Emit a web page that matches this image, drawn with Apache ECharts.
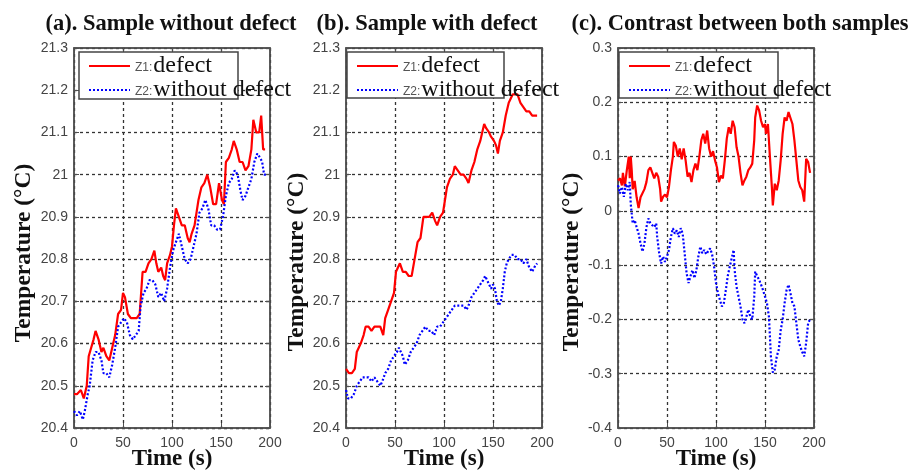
<!DOCTYPE html>
<html>
<head>
<meta charset="utf-8">
<script src="https://cdn.jsdelivr.net/npm/echarts@6/dist/echarts.min.js"></script>
<style>
  html, body { margin: 0; padding: 0; background: #fff; }
  #chart { width: 912px; height: 473px; }
</style>
</head>
<body>
<div id="chart"></div>
<script>
// (a) sample without defect
const tA1 = [0,3,7,10,13,15,17,20,22,25,28,30,33,36,38,42,45,48,50,52,55,58,61,64,67,70,73,76,79,82,84,86,89,91,93,95,98,100,102,104,107,110,113,116,118,120,123,125,127,130,133,136,139,142,145,148,151,153,155,158,161,163,166,169,172,175,178,181,183,186,189,191,193,195];
const zA1 = [20.48,20.48,20.49,20.47,20.50,20.57,20.57,20.61,20.63,20.61,20.58,20.59,20.57,20.56,20.58,20.62,20.67,20.68,20.72,20.71,20.67,20.66,20.66,20.66,20.67,20.77,20.77,20.79,20.80,20.82,20.79,20.77,20.78,20.76,20.75,20.79,20.81,20.83,20.88,20.92,20.90,20.88,20.88,20.85,20.84,20.86,20.88,20.88,20.94,20.97,20.98,21.00,20.97,20.93,20.93,20.98,20.94,20.93,21.03,21.04,21.06,21.08,21.06,21.03,21.03,21.01,21.02,21.06,21.13,21.10,21.10,21.14,21.06,21.06];
const tA2 = [0,3,6,9,11,14,16,19,22,25,28,30,33,36,39,42,45,48,51,54,57,60,63,66,68,71,74,77,80,83,86,89,92,95,98,101,104,107,110,113,116,119,122,125,128,131,134,137,140,143,146,149,152,155,158,161,164,167,170,172,175,178,181,184,187,190,192,194,196];
const zA2 = [20.44,20.43,20.44,20.42,20.44,20.48,20.50,20.56,20.58,20.58,20.56,20.53,20.53,20.52,20.55,20.59,20.64,20.65,20.66,20.65,20.62,20.61,20.62,20.63,20.69,20.72,20.73,20.75,20.75,20.74,20.71,20.72,20.70,20.73,20.78,20.82,20.84,20.86,20.83,20.80,20.79,20.80,20.83,20.86,20.91,20.92,20.94,20.92,20.88,20.88,20.87,20.87,20.90,20.95,20.98,20.99,21.01,21.00,20.96,20.94,20.95,20.97,20.99,21.03,21.05,21.04,21.03,21.00,21.00];

// (b) sample with defect
const tB1 = [0,3,6,9,11,13,15,18,20,23,26,29,32,35,38,40,43,46,49,51,53,55,58,61,64,67,70,73,76,79,82,85,88,91,93,96,99,101,103,106,109,111,114,117,120,123,125,128,131,134,137,139,141,143,146,148,151,153,155,157,160,163,166,168,170,172,175,178,181,184,187,190,193,195];
const zB1 = [20.54,20.53,20.53,20.54,20.58,20.59,20.60,20.62,20.64,20.64,20.63,20.64,20.64,20.64,20.62,20.66,20.68,20.70,20.72,20.77,20.78,20.79,20.77,20.77,20.76,20.76,20.80,20.84,20.85,20.90,20.90,20.90,20.91,20.89,20.88,20.90,20.91,20.94,20.97,20.99,21.00,21.02,21.01,21.00,21.00,20.99,20.98,21.01,21.03,21.06,21.08,21.10,21.12,21.11,21.10,21.09,21.08,21.07,21.05,21.08,21.10,21.14,21.17,21.18,21.19,21.19,21.19,21.17,21.16,21.15,21.15,21.14,21.14,21.14];
const tB2 = [0,2,5,8,11,14,17,20,23,26,29,32,35,37,40,43,46,49,52,54,56,58,60,63,66,69,72,75,78,81,84,87,90,93,96,99,102,105,108,111,114,117,120,123,125,128,131,134,137,140,142,144,146,148,150,152,154,156,158,160,162,164,166,169,172,175,178,181,184,187,190,192,195];
const zB2 = [20.49,20.47,20.47,20.48,20.50,20.51,20.52,20.52,20.52,20.51,20.52,20.51,20.50,20.51,20.53,20.54,20.56,20.57,20.58,20.59,20.58,20.57,20.55,20.56,20.58,20.59,20.60,20.62,20.63,20.64,20.63,20.63,20.62,20.64,20.64,20.65,20.66,20.67,20.68,20.69,20.69,20.69,20.69,20.68,20.69,20.71,20.72,20.73,20.74,20.75,20.76,20.75,20.74,20.73,20.74,20.73,20.70,20.69,20.70,20.73,20.77,20.79,20.80,20.81,20.81,20.80,20.80,20.79,20.80,20.78,20.77,20.78,20.79];

// (c) contrast between both samples
const tC1 = [0,2,4,5,7,9,11,12,13,14,15,17,19,21,23,25,27,29,31,33,35,37,39,41,43,44,46,48,50,52,54,56,57,59,61,63,65,67,69,71,73,75,77,79,81,83,85,87,89,91,93,95,97,99,101,103,105,107,109,111,113,115,117,119,121,123,125,127,129,131,133,135,137,139,140,142,144,146,148,150,151,153,155,157,158,160,162,164,166,168,170,172,174,176,178,180,182,184,186,188,190,191,192,194,196];
const zC1 = [0.056,0.06,0.047,0.07,0.045,0.075,0.10,0.06,0.10,0.075,0.04,0.055,0.025,0.005,0.025,0.022,0.04,0.053,0.075,0.08,0.07,0.06,0.07,0.063,0.04,0.017,0.026,0.03,0.025,0.044,0.075,0.10,0.127,0.12,0.10,0.115,0.095,0.115,0.093,0.063,0.07,0.053,0.075,0.087,0.075,0.10,0.13,0.142,0.124,0.148,0.115,0.10,0.11,0.093,0.08,0.053,0.065,0.06,0.093,0.133,0.154,0.142,0.166,0.154,0.117,0.10,0.07,0.047,0.056,0.063,0.075,0.08,0.087,0.13,0.172,0.194,0.185,0.166,0.154,0.16,0.142,0.16,0.10,0.044,0.01,0.05,0.038,0.056,0.093,0.142,0.172,0.166,0.182,0.18,0.16,0.13,0.093,0.056,0.044,0.038,0.017,0.056,0.096,0.09,0.07];
const tC2 = [0,2,4,6,8,10,12,13,15,17,19,21,23,25,27,29,31,33,35,37,39,40,42,44,46,48,50,52,54,56,58,60,62,64,66,68,70,72,74,76,78,80,82,84,86,88,90,92,94,96,98,100,102,104,106,108,110,112,114,116,118,119,121,123,125,127,129,131,133,135,137,139,140,142,144,146,148,150,152,154,155,156,158,160,162,164,166,168,170,172,174,176,178,180,182,184,186,188,190,192,194,196];
const zC2 = [0.047,0.032,0.044,0.026,0.05,0.038,0.053,0.013,-0.023,-0.017,-0.03,-0.042,-0.06,-0.075,-0.06,-0.03,-0.014,-0.023,-0.02,-0.03,-0.023,-0.048,-0.078,-0.097,-0.084,-0.094,-0.084,-0.072,-0.048,-0.032,-0.042,-0.036,-0.048,-0.032,-0.042,-0.078,-0.115,-0.133,-0.12,-0.109,-0.124,-0.109,-0.084,-0.066,-0.078,-0.072,-0.08,-0.078,-0.069,-0.08,-0.102,-0.133,-0.152,-0.164,-0.176,-0.17,-0.146,-0.12,-0.103,-0.10,-0.072,-0.109,-0.14,-0.158,-0.176,-0.20,-0.207,-0.195,-0.182,-0.195,-0.20,-0.158,-0.112,-0.12,-0.127,-0.136,-0.146,-0.146,-0.17,-0.195,-0.23,-0.268,-0.298,-0.292,-0.268,-0.256,-0.22,-0.20,-0.17,-0.146,-0.136,-0.152,-0.17,-0.176,-0.207,-0.237,-0.25,-0.26,-0.268,-0.243,-0.207,-0.20];

const titles = ['(a). Sample without defect', '(b). Sample with defect', '(c). Contrast between both samples'];
const yRanges = [[20.4, 21.3], [20.4, 21.3], [-0.4, 0.3]];
const xTicks = [0, 200, 50];

const gridLeft = [74, 346, 618];
const titleX = [166, 422, 735];
const yNameGap = [38, 31, 33];
const yNameShift = [30, 48, 48];
const boxes = [[79, 52, 159, 47], [347, 52, 157, 46], [619, 52, 159, 46]];
const seriesData = [[tA1, zA1, tA2, zA2], [tB1, zB1, tB2, zB2], [tC1, zC1, tC2, zC2]];

const zip = (t, v) => t.map((x, i) => [x, v[i]]);
const serif = 'Liberation Serif';
const sans = 'Liberation Sans';
const axisGrey = '#505050';

const option = {
  animation: false,
  backgroundColor: '#fff',
  title: titles.map((t, i) => ({
    text: t, left: titleX[i], top: 8, textAlign: 'center',
    textStyle: { fontFamily: serif, fontWeight: 'bold', fontSize: 22.5, color: '#111' }
  })),
  grid: gridLeft.map(l => ({
    left: l, top: 48, width: 196, height: 380, outerBoundsMode: 'none',
    show: true, borderColor: axisGrey, borderWidth: 1.5, backgroundColor: '#fff'
  })),
  xAxis: [],
  yAxis: [],
  legend: gridLeft.map((l, i) => ({
    orient: 'vertical', left: boxes[i][0] + 9, top: 54, padding: 0,
    itemWidth: 41, itemHeight: 21, itemGap: 0, z: 5,
    itemStyle: { opacity: 0 },
    data: ['Z1:defect', 'Z2:without defect'],
    formatter: n => { const p = n.split(':'); return '{z|' + p[0] + ':}{t|' + p[1] + '}'; },
    textStyle: {
      rich: {
        z: { fontFamily: sans, fontSize: 12, color: '#555', padding: [4, 1, 0, 0] },
        t: { fontFamily: serif, fontSize: 24, color: '#111', lineHeight: 21 }
      }
    }
  })),
  graphic: boxes.map(b => ({
    type: 'rect', z: 4,
    shape: { x: b[0], y: b[1], width: b[2], height: b[3] },
    style: { fill: '#fff', stroke: '#444', lineWidth: 1.5 }
  })),
  series: []
};

for (let i = 0; i < 3; i++) {
  const base = {
    gridIndex: i, type: 'value', min: xTicks[0], max: xTicks[1], interval: xTicks[2]
  };
  option.xAxis.push(Object.assign({}, base, {
    position: 'bottom',
    name: 'Time (s)', nameLocation: 'middle', nameGap: 20, nameMoveOverlap: false,
    nameTextStyle: { fontFamily: serif, fontWeight: 'bold', fontSize: 23, color: '#111' },
    axisLine: { onZero: false, lineStyle: { color: axisGrey, width: 1.5 } },
    axisTick: { inside: true, length: 5, lineStyle: { color: axisGrey } },
    axisLabel: { fontFamily: sans, fontSize: 14, color: '#444', margin: 8 },
    splitLine: { show: true, lineStyle: { color: '#333', type: [3, 3], width: 1.3 } }
  }));
  option.xAxis.push(Object.assign({}, base, {
    position: 'top',
    axisLine: { onZero: false, lineStyle: { color: axisGrey, width: 1.5 } },
    axisTick: { inside: true, length: 5, lineStyle: { color: axisGrey } },
    axisLabel: { show: false }, splitLine: { show: false }
  }));
  const ybase = { gridIndex: i, type: 'value', min: yRanges[i][0], max: yRanges[i][1], interval: 0.1 };
  option.yAxis.push(Object.assign({}, ybase, {
    position: 'left',
    name: 'Temperature (°C)', nameLocation: 'middle', nameGap: yNameGap[i],
    nameTextStyle: {
      fontFamily: serif, fontWeight: 'bold', fontSize: 23.5, color: '#111',
      padding: [0, yNameShift[i], 0, 0]
    },
    axisLine: { show: true, onZero: false, lineStyle: { color: axisGrey, width: 1.5 } },
    axisTick: { show: true, inside: true, length: 5, lineStyle: { color: axisGrey } },
    axisLabel: { fontFamily: sans, fontSize: 14, color: '#444', margin: 6 },
    splitLine: { show: true, lineStyle: { color: '#333', type: [3, 3], width: 1.3 } }
  }));
  option.yAxis.push(Object.assign({}, ybase, {
    position: 'right',
    axisLine: { show: true, onZero: false, lineStyle: { color: axisGrey, width: 1.5 } },
    axisTick: { show: true, inside: true, length: 5, lineStyle: { color: axisGrey } },
    axisLabel: { show: false }, splitLine: { show: false }
  }));
  const d = seriesData[i];
  option.series.push({
    name: 'Z1:defect', type: 'line', xAxisIndex: 2 * i, yAxisIndex: 2 * i,
    showSymbol: false, symbol: 'none', z: 3,
    lineStyle: { color: '#ff0000', width: 2.2 }, itemStyle: { color: '#ff0000' },
    data: zip(d[0], d[1])
  });
  option.series.push({
    name: 'Z2:without defect', type: 'line', xAxisIndex: 2 * i, yAxisIndex: 2 * i,
    showSymbol: false, symbol: 'none', z: 3,
    lineStyle: { color: '#0000ff', width: 2.2, type: [2, 2] }, itemStyle: { color: '#0000ff' },
    data: zip(d[2], d[3])
  });
}

const chart = echarts.init(document.getElementById('chart'), null, { renderer: 'canvas' });
chart.setOption(option);
</script>
</body>
</html>
